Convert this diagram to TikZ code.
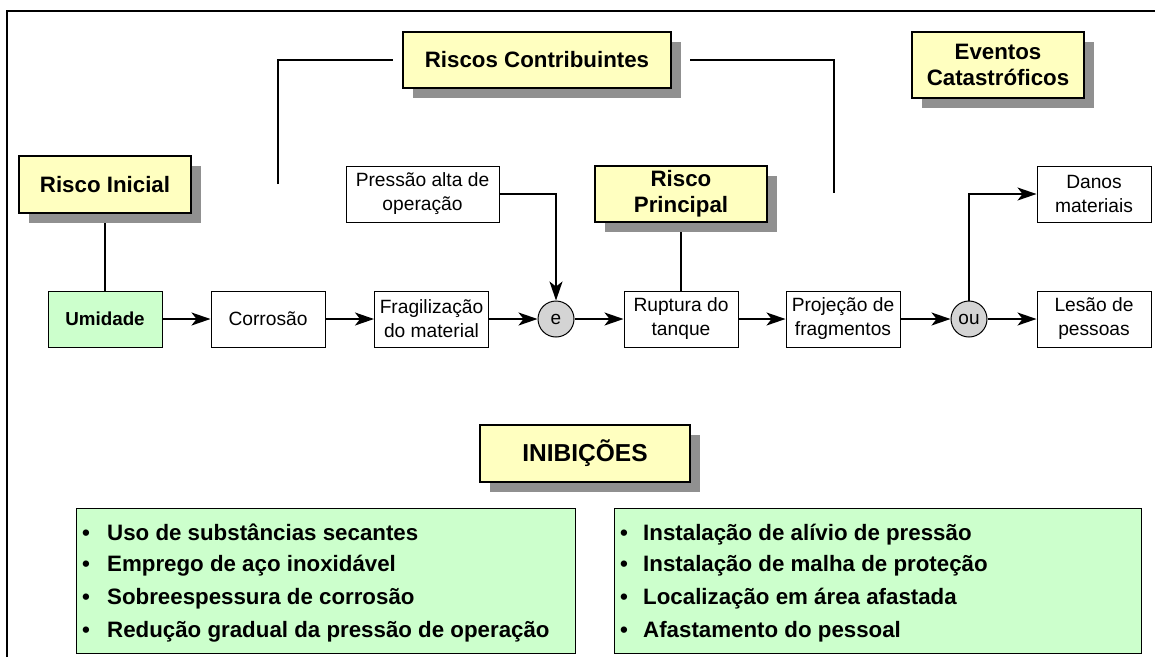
\documentclass[tikz,border=0pt]{standalone}
\usepackage{fontspec}
\setmainfont{Liberation Sans}
\usetikzlibrary{arrows.meta,shadows}
\definecolor{hdrY}{HTML}{FFFFC0}
\definecolor{shd}{HTML}{909090}
\definecolor{grn}{HTML}{CCFFCC}
\definecolor{circ}{HTML}{D4D4D4}
\tikzset{
  hdr/.style={draw, line width=1.2pt, fill=hdrY, align=center, inner sep=0pt,
    font=\bfseries\fontsize{22.3}{26}\selectfont,
    drop shadow={shadow xshift=10pt, shadow yshift=-10pt, fill=shd, opacity=1}},
  evbox/.style={draw, line width=1pt, fill=white, align=center, inner sep=0pt,
    minimum width=114pt, minimum height=56pt, font=\fontsize{19.2}{24}\selectfont},
  gate/.style={draw, line width=1pt, fill=circ, circle, inner sep=0pt,
    minimum size=36pt, font=\fontsize{19}{20}\selectfont},
  conn/.style={line width=1.4pt},
  arr/.style={line width=1.4pt, -{Stealth[length=19pt,width=13pt,inset=5pt]}},
  inhbox/.style={draw, line width=1pt, fill=grn, inner sep=0pt},
  bul/.style={anchor=base west, inner sep=0pt, font=\bfseries\fontsize{22.3}{26}\selectfont}
}
\begin{document}
\begin{tikzpicture}[x=1pt,y=-1pt]
\useasboundingbox (0,0) rectangle (1155,657);
% frame
\draw[line width=2pt] (7,657) -- (7,11) -- (1155,11);

% headers
\node[hdr, minimum width=172pt, minimum height=57pt] (ri) at (105,184.5) {Risco Inicial};
\node[hdr, minimum width=268pt, minimum height=56pt] (rc) at (537,60) {Riscos Contribuintes};
\node[hdr, minimum width=172pt, minimum height=66pt] (ec) at (998,65) {Eventos\\Catastróficos};
\node[hdr, minimum width=172pt, minimum height=56pt] (rp) at (681,194) {Risco\\Principal};
\node[hdr, minimum width=210pt, minimum height=57pt, font=\bfseries\fontsize{24.5}{28}\selectfont] (inib) at (585,453.5) {INIBIÇÕES};

% event boxes
\node[evbox, minimum width=153pt] (pa) at (422.5,194) {Pressão alta de\\operação};
\node[evbox] (danos) at (1094,194) {Danos\\materiais};
\node[evbox, fill=grn, font=\bfseries\fontsize{18.8}{22}\selectfont] (umid) at (105,319) {Umidade};
\node[evbox] (corr) at (268,319) {Corrosão};
\node[evbox] (frag) at (431.5,319) {Fragilização\\do material};
\node[gate] (e) at (556,319) {e};
\node[evbox] (rupt) at (681,319) {Ruptura do\\tanque};
\node[evbox] (proj) at (843,319) {Projeção de\\fragmentos};
\node[gate] (ou) at (969,319) {ou};
\node[evbox] (les) at (1094,319) {Lesão de\\pessoas};

% free ends
\coordinate (riS) at (105,223);
\coordinate (rpS) at (681,232);
\coordinate (bl1) at (278,184);
\coordinate (bl2) at (278,60);
\coordinate (bl3) at (393,60);
\coordinate (br1) at (690,60);
\coordinate (br2) at (834,60);
\coordinate (br3) at (834,193);

% connectors
\draw[conn] (riS) -- (umid.north);
\draw[conn] (rpS) -- (rupt.north);
\draw[conn] (bl1) -- (bl2) -- (bl3);
\draw[conn] (br1) -- (br2) -- (br3);
\draw[arr] (pa.east) -| (e.north);
\draw[arr] (umid) -- (corr);
\draw[arr] (corr) -- (frag);
\draw[arr] (frag) -- (e);
\draw[arr] (e) -- (rupt);
\draw[arr] (rupt) -- (proj);
\draw[arr] (proj) -- (ou);
\draw[arr] (ou) -- (les);
\draw[arr] (ou.north) |- (danos.west);

% inhibition boxes
\node[inhbox, minimum width=499pt, minimum height=145pt] (gl) at (325.5,580.5) {};
\node[inhbox, minimum width=527pt, minimum height=145pt] (gr) at (877.5,580.5) {};
\node[bul] (l1) at (82,540) {\makebox[25pt][l]{•}Uso de substâncias secantes};
\node[bul] (l2) at (82,571) {\makebox[25pt][l]{•}Emprego de aço inoxidável};
\node[bul] (l3) at (82,604) {\makebox[25pt][l]{•}Sobreespessura de corrosão};
\node[bul] (l4) at (82,637) {\makebox[25pt][l]{•}Redução gradual da pressão de operação};
\node[bul] (r1) at (620,540) {\makebox[23pt][l]{•}Instalação de alívio de pressão};
\node[bul] (r2) at (620,571) {\makebox[23pt][l]{•}Instalação de malha de proteção};
\node[bul] (r3) at (620,604) {\makebox[23pt][l]{•}Localização em área afastada};
\node[bul] (r4) at (620,637) {\makebox[23pt][l]{•}Afastamento do pessoal};
\end{tikzpicture}
\end{document}
